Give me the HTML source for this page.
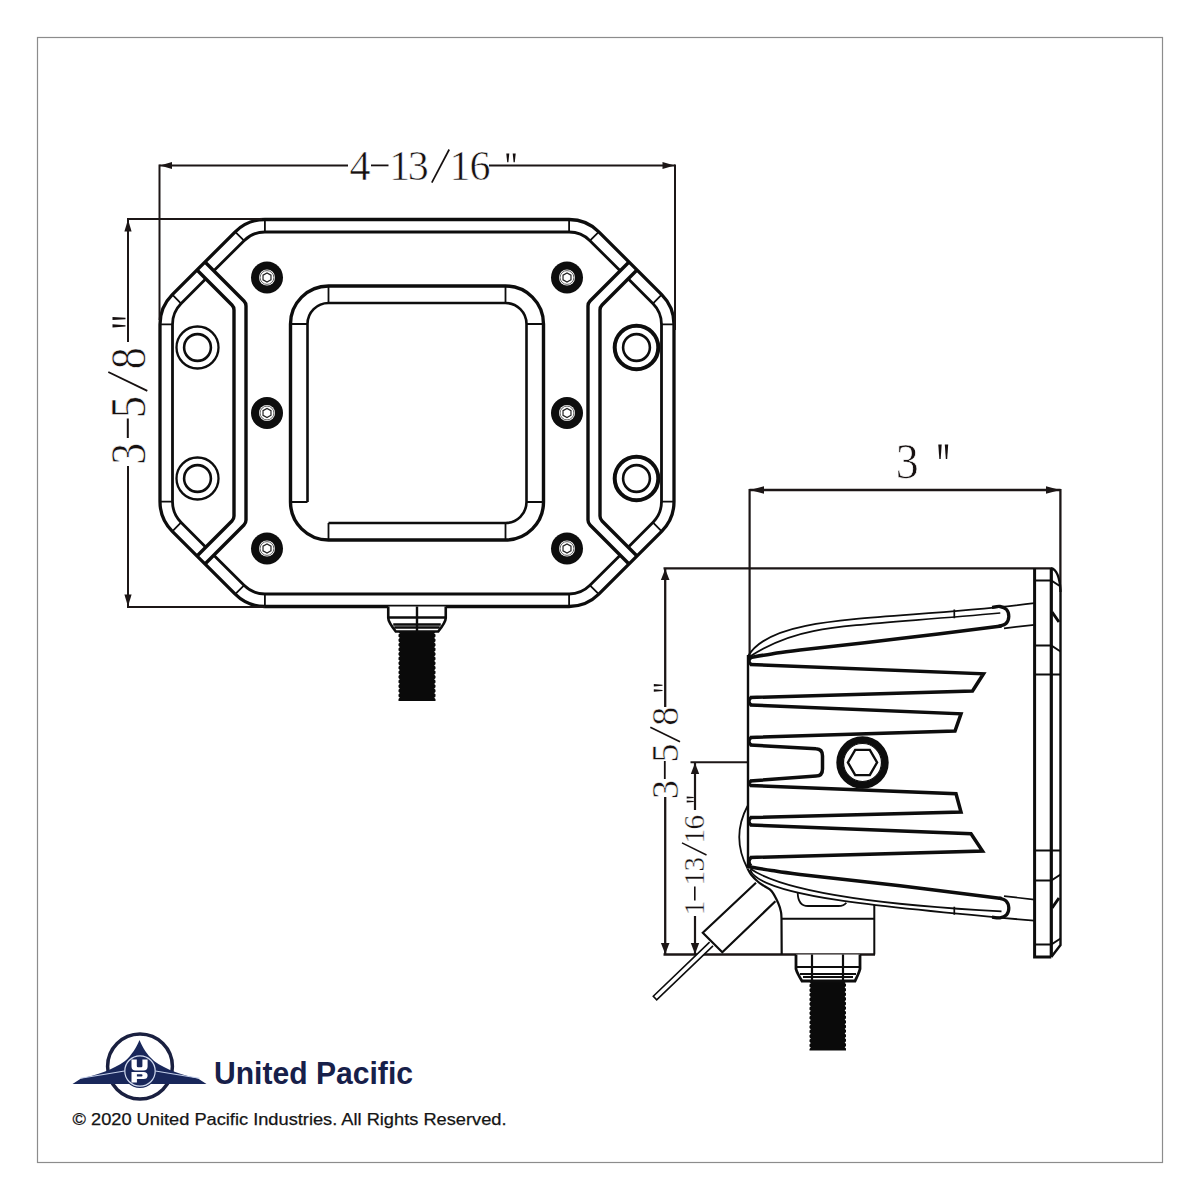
<!DOCTYPE html>
<html><head><meta charset="utf-8"><style>
html,body{margin:0;padding:0;background:#fff;overflow:hidden;width:1200px;height:1200px;}
svg{display:block;}
</style></head><body>
<svg width="1200" height="1200" viewBox="0 0 1200 1200">
<rect x="0" y="0" width="1200" height="1200" fill="#fff"/>
<rect x="37.5" y="37.5" width="1125" height="1125" fill="none" stroke="#8c8c8c" stroke-width="1.2"/>
<path d="M598.8,231.8L661.7,294.7A42,42 0 0 1 674,324.4L674,501.6A42,42 0 0 1 661.7,531.3L598.8,594.2A42,42 0 0 1 569.1,606.5L264.9,606.5A42,42 0 0 1 235.2,594.2L172.3,531.3A42,42 0 0 1 160,501.6L160,324.4A42,42 0 0 1 172.3,294.7L235.2,231.8A42,42 0 0 1 264.9,219.5L569.1,219.5A42,42 0 0 1 598.8,231.8Z" fill="none" stroke="#0d0d0d" stroke-width="3.3"/>
<path d="M197,270L231.95,304.95A7,7 0 0 1 234,309.9L234,516.1A7,7 0 0 1 231.95,521.05L197,556" fill="none" stroke="#0d0d0d" stroke-width="3.4"/>
<path d="M205,262L243.95,300.95A7,7 0 0 1 246,305.9L246,520.1A7,7 0 0 1 243.95,525.05L205,564" fill="none" stroke="#0d0d0d" stroke-width="3.4"/>
<path d="M637,270L602.05,304.95A7,7 0 0 0 600,309.9L600,516.1A7,7 0 0 0 602.05,521.05L637,556" fill="none" stroke="#0d0d0d" stroke-width="3.4"/>
<path d="M629,262L590.05,300.95A7,7 0 0 0 588,305.9L588,520.1A7,7 0 0 0 590.05,525.05L629,564" fill="none" stroke="#0d0d0d" stroke-width="3.4"/>
<path d="M213.84,270.84L244.04,240.64A29.5,29.5 0 0 1 264.9,232L569.1,232A29.5,29.5 0 0 1 589.96,240.64L620.16,270.84" fill="none" stroke="#0d0d0d" stroke-width="2.8"/>
<path d="M213.84,555.16L244.04,585.36A29.5,29.5 0 0 0 264.9,594L569.1,594A29.5,29.5 0 0 0 589.96,585.36L620.16,555.16" fill="none" stroke="#0d0d0d" stroke-width="2.8"/>
<path d="M205.84,278.84L181.14,303.54A29.5,29.5 0 0 0 172.5,324.4L172.5,501.6A29.5,29.5 0 0 0 181.14,522.46L205.84,547.16" fill="none" stroke="#0d0d0d" stroke-width="2.8"/>
<path d="M628.16,278.84L652.86,303.54A29.5,29.5 0 0 1 661.5,324.4L661.5,501.6A29.5,29.5 0 0 1 652.86,522.46L628.16,547.16" fill="none" stroke="#0d0d0d" stroke-width="2.8"/>
<path d="M569.1,219.5L569.1,232M598.8,231.8L589.96,240.64M661.7,294.7L652.86,303.54M674,324.4L661.5,324.4M674,501.6L661.5,501.6M661.7,531.3L652.86,522.46M598.8,594.2L589.96,585.36M569.1,606.5L569.1,594M264.9,606.5L264.9,594M235.2,594.2L244.04,585.36M172.3,531.3L181.14,522.46M160,501.6L172.5,501.6M160,324.4L172.5,324.4M172.3,294.7L181.14,303.54M235.2,231.8L244.04,240.64M264.9,219.5L264.9,232" stroke="#0d0d0d" stroke-width="1.8"/>
<rect x="290.5" y="286" width="253" height="254" rx="38" fill="none" stroke="#0d0d0d" stroke-width="3.4"/>
<path d="M307.5,502L307.5,324A21,21 0 0 1 328.5,303L505.5,303A21,21 0 0 1 526.5,324L526.5,502A21,21 0 0 1 505.5,523L328.5,523" fill="none" stroke="#0d0d0d" stroke-width="2.6"/>
<path d="M328.5,286L328.5,303M328.5,540L328.5,523M505.5,286L505.5,303M505.5,540L505.5,523M290.5,324L307.5,324M543.5,324L526.5,324M290.5,502L307.5,502M543.5,502L526.5,502" stroke="#0d0d0d" stroke-width="1.8"/>
<circle cx="267" cy="277.5" r="16" fill="#0d0d0d"/>
<circle cx="267" cy="277.5" r="8" fill="#fff"/>
<circle cx="267" cy="277.5" r="6.9" fill="none" stroke="#555" stroke-width="0.9"/>
<path d="M270.98,279.8L267,282.1L263.02,279.8L263.02,275.2L267,272.9L270.98,275.2Z" fill="none" stroke="#222" stroke-width="1.2"/>
<circle cx="267" cy="413" r="16" fill="#0d0d0d"/>
<circle cx="267" cy="413" r="8" fill="#fff"/>
<circle cx="267" cy="413" r="6.9" fill="none" stroke="#555" stroke-width="0.9"/>
<path d="M270.98,415.3L267,417.6L263.02,415.3L263.02,410.7L267,408.4L270.98,410.7Z" fill="none" stroke="#222" stroke-width="1.2"/>
<circle cx="267" cy="548.5" r="16" fill="#0d0d0d"/>
<circle cx="267" cy="548.5" r="8" fill="#fff"/>
<circle cx="267" cy="548.5" r="6.9" fill="none" stroke="#555" stroke-width="0.9"/>
<path d="M270.98,550.8L267,553.1L263.02,550.8L263.02,546.2L267,543.9L270.98,546.2Z" fill="none" stroke="#222" stroke-width="1.2"/>
<circle cx="567" cy="277.5" r="16" fill="#0d0d0d"/>
<circle cx="567" cy="277.5" r="8" fill="#fff"/>
<circle cx="567" cy="277.5" r="6.9" fill="none" stroke="#555" stroke-width="0.9"/>
<path d="M570.98,279.8L567,282.1L563.02,279.8L563.02,275.2L567,272.9L570.98,275.2Z" fill="none" stroke="#222" stroke-width="1.2"/>
<circle cx="567" cy="413" r="16" fill="#0d0d0d"/>
<circle cx="567" cy="413" r="8" fill="#fff"/>
<circle cx="567" cy="413" r="6.9" fill="none" stroke="#555" stroke-width="0.9"/>
<path d="M570.98,415.3L567,417.6L563.02,415.3L563.02,410.7L567,408.4L570.98,410.7Z" fill="none" stroke="#222" stroke-width="1.2"/>
<circle cx="567" cy="548.5" r="16" fill="#0d0d0d"/>
<circle cx="567" cy="548.5" r="8" fill="#fff"/>
<circle cx="567" cy="548.5" r="6.9" fill="none" stroke="#555" stroke-width="0.9"/>
<path d="M570.98,550.8L567,553.1L563.02,550.8L563.02,546.2L567,543.9L570.98,546.2Z" fill="none" stroke="#222" stroke-width="1.2"/>
<circle cx="197.5" cy="347.5" r="21" fill="none" stroke="#0d0d0d" stroke-width="2.3"/>
<circle cx="197.5" cy="347.5" r="13.4" fill="none" stroke="#0d0d0d" stroke-width="2.6"/>
<circle cx="197.5" cy="478.5" r="21" fill="none" stroke="#0d0d0d" stroke-width="2.3"/>
<circle cx="197.5" cy="478.5" r="13.4" fill="none" stroke="#0d0d0d" stroke-width="2.6"/>
<circle cx="636.5" cy="347.5" r="21.8" fill="none" stroke="#0d0d0d" stroke-width="4"/>
<circle cx="636.5" cy="347.5" r="13.4" fill="none" stroke="#0d0d0d" stroke-width="2.6"/>
<circle cx="636.5" cy="478.5" r="21.8" fill="none" stroke="#0d0d0d" stroke-width="4"/>
<circle cx="636.5" cy="478.5" r="13.4" fill="none" stroke="#0d0d0d" stroke-width="2.6"/>
<path d="M398.5,630L398.5,632.07L399.8,633.22L398.5,634.6L398.5,636.67L399.8,637.82L398.5,639.2L398.5,641.27L399.8,642.42L398.5,643.8L398.5,645.87L399.8,647.02L398.5,648.4L398.5,650.47L399.8,651.62L398.5,653L398.5,655.07L399.8,656.22L398.5,657.6L398.5,659.67L399.8,660.82L398.5,662.2L398.5,664.27L399.8,665.42L398.5,666.8L398.5,668.87L399.8,670.02L398.5,671.4L398.5,673.47L399.8,674.62L398.5,676L398.5,678.07L399.8,679.22L398.5,680.6L398.5,682.67L399.8,683.82L398.5,685.2L398.5,687.27L399.8,688.42L398.5,689.8L398.5,691.87L399.8,693.02L398.5,694.4L398.5,696.47L399.8,697.62L398.5,699L398.5,701L435.5,701L435.5,698.93L434.2,697.78L435.5,696.4L435.5,694.33L434.2,693.18L435.5,691.8L435.5,689.73L434.2,688.58L435.5,687.2L435.5,685.13L434.2,683.98L435.5,682.6L435.5,680.53L434.2,679.38L435.5,678L435.5,675.93L434.2,674.78L435.5,673.4L435.5,671.33L434.2,670.18L435.5,668.8L435.5,666.73L434.2,665.58L435.5,664.2L435.5,662.13L434.2,660.98L435.5,659.6L435.5,657.53L434.2,656.38L435.5,655L435.5,652.93L434.2,651.78L435.5,650.4L435.5,648.33L434.2,647.18L435.5,645.8L435.5,643.73L434.2,642.58L435.5,641.2L435.5,639.13L434.2,637.98L435.5,636.6L435.5,634.53L434.2,633.38L435.5,632L435.5,630Z" fill="#0a0a0a"/>
<path d="M388.25,606.5L388.25,618Q388.25,622 395.75,631.5L438.25,631.5Q445.75,622 445.75,618L445.75,606.5" fill="#fff" stroke="#0d0d0d" stroke-width="2.6"/><path d="M417,606.5L417,631.5M388.25,617.5L445.75,617.5M393.25,624.5L440.75,624.5M394.25,627.5L439.75,627.5" stroke="#0d0d0d" stroke-width="2.4"/>
<path d="M159.5,165.5L348,165.5" stroke="#1c1616" stroke-width="2"/>
<path d="M489,165.5L675,165.5" stroke="#1c1616" stroke-width="2"/>
<path d="M159.5,164.5L159.5,320" stroke="#1c1616" stroke-width="2"/>
<path d="M675,164.5L675,330" stroke="#1c1616" stroke-width="2"/>
<path d="M160,165.5L172,161.9L172,169.1Z" fill="#1c1616"/>
<path d="M674.5,165.5L662.5,169.1L662.5,161.9Z" fill="#1c1616"/>
<path d="M128,219L128,342" stroke="#1c1616" stroke-width="2"/>
<path d="M128,466L128,607" stroke="#1c1616" stroke-width="2"/>
<path d="M127,219L262,219" stroke="#1c1616" stroke-width="2"/>
<path d="M127,607L265,607" stroke="#1c1616" stroke-width="2.2"/>
<path d="M128,219.5L131.6,231.5L124.4,231.5Z" fill="#1c1616"/>
<path d="M128,606.5L124.4,594.5L131.6,594.5Z" fill="#1c1616"/>
<path d="M749.5,490L1060.5,490" stroke="#1c1616" stroke-width="2.4"/>
<path d="M749.6,489L749.6,657" stroke="#1c1616" stroke-width="2.2"/>
<path d="M1060.4,489L1060.4,592" stroke="#1c1616" stroke-width="2.3"/>
<path d="M750,490L764,486.2L764,493.8Z" fill="#1c1616"/>
<path d="M1060,490L1046,493.8L1046,486.2Z" fill="#1c1616"/>
<path d="M665.2,568.5L665.2,707" stroke="#1c1616" stroke-width="2.3"/>
<path d="M665.2,797L665.2,954.5" stroke="#1c1616" stroke-width="2.3"/>
<path d="M663.5,568.4L1052,568.4" stroke="#1c1616" stroke-width="2.3"/>
<path d="M663.5,954.5L875,954.5" stroke="#1c1616" stroke-width="2.4"/>
<path d="M665.2,569L669.5,580L660.9,580Z" fill="#1c1616"/>
<path d="M665.2,954L660.9,943L669.5,943Z" fill="#1c1616"/>
<path d="M695,762.5L695,810" stroke="#1c1616" stroke-width="2.2"/>
<path d="M695,916L695,954.5" stroke="#1c1616" stroke-width="2.2"/>
<path d="M690.5,762.3L748,762.3" stroke="#1c1616" stroke-width="2"/>
<path d="M695,763L699.2,774L690.8,774Z" fill="#1c1616"/>
<path d="M695,954L690.8,943L699.2,943Z" fill="#1c1616"/>
<path d="M748,655L748,868" stroke="#0d0d0d" stroke-width="2.4"/>
<path d="M748.3,655.7C774.64,611.75 889.11,621.55 1034.4,603.2" fill="none" stroke="#0d0d0d" stroke-width="1.8"/>
<path d="M750.3,656.3C801,623.31 838.42,627.73 1000.3,613" fill="none" stroke="#0d0d0d" stroke-width="1.7"/>
<path d="M750.3,870C760.12,895.97 876.8,906.83 1034.2,920.7" fill="none" stroke="#0d0d0d" stroke-width="1.8"/>
<path d="M750.3,868.7C779.75,888.63 856.32,903.71 1001.5,911.3" fill="none" stroke="#0d0d0d" stroke-width="1.7"/>
<path d="M749,657.7C752.78,657.07 763.2,655.18 771.7,653.9C780.2,652.62 778.62,652.55 800,650C821.38,647.45 866.42,642.62 900,638.6C933.58,634.58 984.58,628.02 1001.5,625.9" fill="none" stroke="#0d0d0d" stroke-width="3.5"/>
<path d="M749,866.7C752.78,867.33 763.2,869.22 771.7,870.5C780.2,871.78 778.62,871.85 800,874.4C821.38,876.95 866.42,881.78 900,885.8C933.58,889.82 984.58,896.38 1001.5,898.5" fill="none" stroke="#0d0d0d" stroke-width="3.5"/>
<path d="M992,607.3C993.33,607.17 997.58,606.13 1000,606.5C1002.42,606.87 1005.03,607.83 1006.5,609.5C1007.97,611.17 1008.88,614.17 1008.8,616.5C1008.72,618.83 1007.63,621.85 1006,623.5C1004.37,625.15 1000.17,625.92 999,626.4" fill="none" stroke="#0d0d0d" stroke-width="3.3"/>
<path d="M992,917.1C993.33,917.23 997.58,918.27 1000,917.9C1002.42,917.53 1005.03,916.57 1006.5,914.9C1007.97,913.23 1008.88,910.23 1008.8,907.9C1008.72,905.57 1007.63,902.55 1006,900.9C1004.37,899.25 1000.17,898.48 999,898" fill="none" stroke="#0d0d0d" stroke-width="3.3"/>
<path d="M1004,628.3L1034.4,624.8M1004,896.1L1034.4,899.6M954.3,609.6L954.3,618.3M954.3,906.7L954.3,914.8" stroke="#0d0d0d" stroke-width="1.7"/>
<path d="M750,664.5L983.5,673.8L972.5,691L750,697.5M750,705L961,713.8L955,731L750,737.5M750,785.5L956,793.8L961,812L750,817.5M750,825L971,833.8L982.5,851L750,857.5M750,745L816,748.8Q822.5,749 822.5,756L822.5,769Q822.5,776 816,776L750,781" fill="none" stroke="#0d0d0d" stroke-width="3.5" stroke-linejoin="miter"/>
<path d="M751,657.5Q747,661 751,664.5M751,697.5Q747,701.25 751,705M751,737.5Q747,741.25 751,745M751,781Q747,783.25 751,785.5M751,817.5Q747,821.25 751,825M751,857.5Q747,861.75 751,866" fill="none" stroke="#0d0d0d" stroke-width="3.3"/>
<circle cx="862.5" cy="762.5" r="22.7" fill="none" stroke="#0d0d0d" stroke-width="7"/>
<circle cx="862.5" cy="762.5" r="19" fill="none" stroke="#0d0d0d" stroke-width="1.2"/>
<path d="M877.1,762.5L869.8,775.14L855.2,775.14L847.9,762.5L855.2,749.86L869.8,749.86Z" fill="none" stroke="#0d0d0d" stroke-width="2.4"/>
<path d="M747.5,806Q731,837 747.5,868.5" fill="none" stroke="#0d0d0d" stroke-width="1.8"/>
<path d="M1034.6,568.2L1034.6,957L1051.3,957" fill="none" stroke="#0d0d0d" stroke-width="3"/>
<path d="M1051.3,568.2L1051.3,957" stroke="#0d0d0d" stroke-width="3.2"/>
<path d="M1051.3,568.2Q1059,570 1060.5,590L1060.5,945L1051.3,957" fill="none" stroke="#0d0d0d" stroke-width="2.4"/>
<path d="M1034.6,580.5L1051.3,580.5L1060.5,586.5M1034.6,645.5L1051.3,645.5L1060.5,651.5M1034.6,674.5L1060.5,674.5M1034.6,850.5L1060.5,850.5M1034.6,880.5L1051.3,880.5L1060.5,874.5M1034.6,944.5L1051.3,944.5L1060.5,938.5" fill="none" stroke="#0d0d0d" stroke-width="2"/>
<path d="M1052,612L1059,622M1052,908L1059,898" stroke="#0d0d0d" stroke-width="3"/>
<path d="M747.5,868.5C748.08,869.5 749.2,872.25 751,874.5C752.8,876.75 755.97,880 758.3,882C760.63,884 762.77,884.95 765,886.5C767.23,888.05 769.48,888.5 771.7,891.3C773.92,894.1 776.75,899.85 778.3,903.3C779.85,906.75 780.47,909.43 781,912C781.53,914.57 781.42,917.58 781.5,918.7L781.7,954.5" fill="none" stroke="#0d0d0d" stroke-width="2.2"/>
<path d="M781.5,918.7L874.3,918.7M874.3,905L874.3,954.5" fill="none" stroke="#0d0d0d" stroke-width="2"/>
<path d="M797.7,892.7Q798,906 808,906L838.3,906Q844,906 846.3,902.7" fill="none" stroke="#0d0d0d" stroke-width="1.8"/>
<path d="M756,882.8L702.8,932.7L722.3,952.2L775.4,901.3" fill="none" stroke="#0d0d0d" stroke-width="2.2"/>
<path d="M709.6,942.2L653.3,996.2L656.7,999.8L713,945.8" fill="#fff" stroke="#0d0d0d" stroke-width="1.6"/>
<path d="M809.5,980L809.5,982.07L810.8,983.22L809.5,984.6L809.5,986.67L810.8,987.82L809.5,989.2L809.5,991.27L810.8,992.42L809.5,993.8L809.5,995.87L810.8,997.02L809.5,998.4L809.5,1000.47L810.8,1001.62L809.5,1003L809.5,1005.07L810.8,1006.22L809.5,1007.6L809.5,1009.67L810.8,1010.82L809.5,1012.2L809.5,1014.27L810.8,1015.42L809.5,1016.8L809.5,1018.87L810.8,1020.02L809.5,1021.4L809.5,1023.47L810.8,1024.62L809.5,1026L809.5,1028.07L810.8,1029.22L809.5,1030.6L809.5,1032.67L810.8,1033.82L809.5,1035.2L809.5,1037.27L810.8,1038.42L809.5,1039.8L809.5,1041.87L810.8,1043.02L809.5,1044.4L809.5,1046.47L810.8,1047.62L809.5,1049L809.5,1050.5L846,1050.5L846,1048.43L844.7,1047.28L846,1045.9L846,1043.83L844.7,1042.68L846,1041.3L846,1039.23L844.7,1038.08L846,1036.7L846,1034.63L844.7,1033.48L846,1032.1L846,1030.03L844.7,1028.88L846,1027.5L846,1025.43L844.7,1024.28L846,1022.9L846,1020.83L844.7,1019.68L846,1018.3L846,1016.23L844.7,1015.08L846,1013.7L846,1011.63L844.7,1010.48L846,1009.1L846,1007.03L844.7,1005.88L846,1004.5L846,1002.43L844.7,1001.28L846,999.9L846,997.83L844.7,996.68L846,995.3L846,993.23L844.7,992.08L846,990.7L846,988.63L844.7,987.48L846,986.1L846,984.03L844.7,982.88L846,981.5L846,980Z" fill="#0a0a0a"/>
<path d="M796,954.5L796,969Q797,973 802,981L855,981Q859,973 860,969L860,954.5" fill="#fff" stroke="#0d0d0d" stroke-width="2.8"/>
<path d="M812,954.5L812,981M843,954.5L843,981M796,967L860,967M800,974L856,974M803,977L853,977" stroke="#0d0d0d" stroke-width="2.2"/>
<text transform="translate(0,179.6)" font-family="'Liberation Serif', serif" font-size="42" fill="#161010" stroke="#fff" stroke-width="0.59" x="349.46 389.32 407.7 449.52 469.61" y="0">41316</text>
<path d="M371,165.4L388.5,165.4" stroke="#161010" stroke-width="1.8" stroke-linecap="butt"/>
<path d="M431.8,182.7L449.2,149.5" stroke="#161010" stroke-width="1.7" stroke-linecap="butt"/>
<path d="M506.3,153.5L509.3,153.5L508.4,162.3L507.2,162.3Z" fill="#161010"/>
<path d="M512.7,153.5L515.7,153.5L514.8,162.3L513.6,162.3Z" fill="#161010"/>
<text transform="translate(145,0) rotate(-90) scale(0.86,1)" font-family="'Liberation Serif', serif" font-size="51" fill="#161010" stroke="#fff" stroke-width="0.71" x="-540.5 -486.07 -429.24" y="0">358</text>
<path d="M127.8,418.5L127.8,438" stroke="#161010" stroke-width="2" stroke-linecap="butt"/>
<path d="M108.3,372L147.3,390.8" stroke="#161010" stroke-width="1.9" stroke-linecap="butt"/>
<path d="M112.5,316.9L112.5,320.1L125.5,319.14L125.5,317.86Z" fill="#161010"/>
<path d="M112.5,324.2L112.5,327.4L125.5,326.44L125.5,325.16Z" fill="#161010"/>
<text transform="translate(0,477.6) scale(0.91,1)" font-family="'Liberation Serif', serif" font-size="50.5" fill="#161010" stroke="#fff" stroke-width="0.71" x="984.41" y="0">3</text>
<path d="M938.3,444.6L941.7,444.6L940.68,458.9L939.32,458.9Z" fill="#161010"/>
<path d="M944.8,444.6L948.2,444.6L947.18,458.9L945.82,458.9Z" fill="#161010"/>
<text transform="translate(677.7,0) rotate(-90)" font-family="'Liberation Serif', serif" font-size="38" fill="#161010" stroke="#fff" stroke-width="0.53" x="-799 -762.58 -725.72" y="0">358</text>
<path d="M664.8,761L664.8,779" stroke="#161010" stroke-width="1.8" stroke-linecap="butt"/>
<path d="M650.3,727.2L680,741.8" stroke="#161010" stroke-width="1.6" stroke-linecap="butt"/>
<path d="M653.8,683.9L653.8,686.5L662.5,685.72L662.5,684.68Z" fill="#161010"/>
<path d="M653.8,689.2L653.8,691.8L662.5,691.02L662.5,689.98Z" fill="#161010"/>
<text transform="translate(704.2,0) rotate(-90)" font-family="'Liberation Serif', serif" font-size="29" fill="#161010" stroke="#fff" stroke-width="0.41" x="-915.34 -885.54 -871.58 -843.54 -829.43" y="0">11316</text>
<path d="M694.8,886.5L694.8,900.5" stroke="#161010" stroke-width="1.6" stroke-linecap="butt"/>
<path d="M682,842.8L706.5,855" stroke="#161010" stroke-width="1.4" stroke-linecap="butt"/>
<path d="M686.7,796.4L686.7,798.6L693.7,797.94L693.7,797.06Z" fill="#161010"/>
<path d="M686.7,800.4L686.7,802.6L693.7,801.94L693.7,801.06Z" fill="#161010"/>
<circle cx="140" cy="1066.5" r="32.4" fill="none" stroke="#1a2040" stroke-width="3.5"/>
<path d="M72.5,1084L81,1078.6C95,1075.5 113,1070 125,1061C132,1055 136.5,1047 139.5,1040C142.5,1047 147,1055 154,1061C166,1070 184,1075.5 198,1078.6L206.5,1084Z" fill="#19275a"/>
<circle cx="140" cy="1071" r="17" fill="#19275a"/>
<path d="M80.5,1078.2Q104,1074.5 124.5,1071M199.5,1078.2Q176,1074.5 155.5,1071" fill="none" stroke="#c5d0ea" stroke-width="1.1"/>
<circle cx="140" cy="1071" r="15.2" fill="none" stroke="#d3dcf0" stroke-width="1.2"/>
<path d="M131.5,1059.5L136.8,1059.5L136.8,1066Q136.8,1067.2 138,1067.2L141.2,1067.2Q142.4,1067.2 142.4,1066L142.4,1059.5L147.6,1059.5L147.6,1066.5Q147.6,1070.6 143.5,1070.6L135.6,1070.6Q131.5,1070.6 131.5,1066.5Z" fill="#fff"/>
<path d="M131.5,1072L143.5,1072Q147.6,1072 147.6,1075.5Q147.6,1079 143.5,1079L136.9,1079L136.9,1082.6L131.5,1082.6ZM136.9,1074.3L136.9,1076.6L141.5,1076.6Q142.5,1076.6 142.5,1075.45Q142.5,1074.3 141.5,1074.3Z" fill="#fff" fill-rule="evenodd"/>
<text font-family="'Liberation Sans', sans-serif" font-weight="bold" font-size="30.5" fill="#17204a" x="214" y="1084" textLength="199" lengthAdjust="spacingAndGlyphs">United Pacific</text>
<text font-family="'Liberation Sans', sans-serif" font-size="17" fill="#141414" stroke="#141414" stroke-width="0.25" x="72.5" y="1125.2" textLength="434" lengthAdjust="spacingAndGlyphs">&#169; 2020 United Pacific Industries. All Rights Reserved.</text>
</svg>
</body></html>
